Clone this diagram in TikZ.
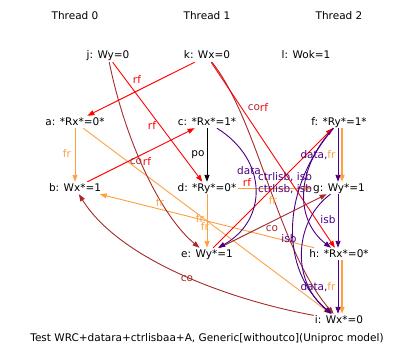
\documentclass[tikz,border=0pt]{standalone}
\usepackage{fontspec}
\setmainfont{DejaVu Sans}
\usetikzlibrary{arrows.meta}

\definecolor{rfcol}{HTML}{FF0000}
\definecolor{cocol}{HTML}{A52A2A}
\definecolor{frcol}{HTML}{FFA040}
\definecolor{depcol}{HTML}{4B0082}

\tikzset{
    ev/.style={inner sep=1pt, text height=8pt, text depth=2pt},
    lbl/.style={inner sep=0pt},
    rel/.style={-{Triangle[length=7pt,width=5pt]}, line width=0.9pt},
    poedge/.style={rel, black},
    rfedge/.style={rel, rfcol},
    coedge/.style={rel, cocol},
    fredge/.style={rel, frcol},
    depedge/.style={rel, depcol}
}

\begin{document}
\begin{tikzpicture}[x=1pt, y=-1pt, font=\fontsize{10.5}{12}\selectfont]
    \useasboundingbox (0,0) rectangle (415,361);

    % thread titles
    \node[ev] (t0) at (75,17) {Thread 0};
    \node[ev] (t1) at (207,17) {Thread 1};
    \node[ev] (t2) at (339,17) {Thread 2};

    % init writes
    \node[ev] (j) at (108,56) {j: Wy=0};
    \node[ev] (k) at (207,56) {k: Wx=0};
    \node[ev] (l) at (306,56) {l: Wok=1};

    % events
    \node[ev] (a) at (75,122) {a: *Rx*=0*};
    \node[ev] (b) at (75,188) {b: Wx*=1};
    \node[ev] (c) at (207,122) {c: *Rx*=1*};
    \node[ev] (d) at (207,188) {d: *Ry*=0*};
    \node[ev] (e) at (207,254) {e: Wy*=1};
    \node[ev] (f) at (339,122) {f: *Ry*=1*};
    \node[ev] (g) at (339,188) {g: Wy*=1};
    \node[ev] (h) at (339,254) {h: *Rx*=0*};
    \node[ev] (i) at (339,320) {i: Wx*=0};

    \node[ev] (cap) at (207,338) {Test WRC+datara+ctrlisbaa+A, Generic[withoutco](Uniproc model)};

    % fr
    \draw[fredge] (a) -- (b);
    \draw[fredge] (a) -- (i);
    \draw[fredge] (h) -- (b);
    \draw[fredge] (d) -- (e);
    \draw[fredge] (d) -- (g);
    \draw[fredge, line width=1.6pt] ([xshift=3pt]f.south) -- ([xshift=3pt]g.north); % under data
    \draw[fredge, line width=1.6pt] ([xshift=3pt]h.south) -- ([xshift=3pt]i.north); % under data

    % co
    \draw[coedge] (j) .. controls (125,140) and (160,215) .. (e);
    \draw[coedge] (k) .. controls (258,120) and (278,250) .. (i);
    \draw[coedge] (e) -- (g);
    \draw[coedge] (i) .. controls (230,300) and (120,260) .. (b);

    % rf
    \draw[rfedge] (k) -- (a);
    \draw[rfedge] (j) -- (d);
    \draw[rfedge] (b) -- (c);
    \draw[rfedge] (e) -- (f);
    \draw[rfedge] (k) -- (h);

    % po
    \draw[poedge] (c) -- (d);

    % dependencies
    \draw[depedge] (c) .. controls (268,160) and (268,220) .. (e);
    \draw[depedge] ([xshift=-1pt]f.south) -- ([xshift=-1pt]g.north);
    \draw[depedge] ([xshift=-1pt]g.south) -- ([xshift=-1pt]h.north);
    \draw[depedge] ([xshift=-1pt]h.south) -- ([xshift=-1pt]i.north);
    \draw[depedge] (f) .. controls (295,170) and (295,220) .. (h);
    \draw[depedge] (f) .. controls (280,190) and (280,270) .. (i);
    \draw[depedge] (g) .. controls (295,220) and (290,280) .. (i);

    % labels
    \node[lbl, text=rfcol] (lrf1) at (137,80) {rf};
    \node[lbl, text=rfcol] (lrf2) at (152,126) {rf};
    \node[lbl, text=cocol] (lco1) at (136,162) {co};
    \node[lbl, text=rfcol] (lrf3) at (147,162) {rf};
    \node[lbl, text=cocol] (lco2) at (254,108) {co};
    \node[lbl, text=rfcol] (lrf4) at (264,108) {rf};
    \node[lbl] (lpo) at (198,155) {po};
    \node[lbl, text=frcol] (lfr1) at (67,154) {fr};
    \node[lbl, text=frcol] (lfr2) at (160,203) {fr};
    \node[lbl, text=frcol] (lfr3) at (200,219) {fr};
    \node[lbl, text=frcol] (lfr4) at (205,227) {fr};
    \node[lbl, text=frcol] (lfr5) at (273,201) {fr};
    \node[lbl, text=depcol] (ldata1) at (249,171) {data};
    \node[lbl, text=rfcol] (lrf5) at (247,183) {rf};
    \node[lbl, text=depcol] (lci1) at (285,177) {ctrlisb, isb};
    \node[lbl, text=depcol] (lci2) at (285,189) {ctrlisb, isb};
    \node[lbl, text=depcol] (ldata2) at (318,155) {data,\textcolor{frcol}{fr}};
    \node[lbl, text=depcol] (lisb1) at (328,220) {isb};
    \node[lbl, text=cocol] (lco3) at (272,229) {co};
    \node[lbl, text=depcol] (lisb2) at (289,239) {isb};
    \node[lbl, text=depcol] (ldata3) at (318,287) {data,\textcolor{frcol}{fr}};
    \node[lbl, text=cocol] (lco4) at (187,279) {co};
\end{tikzpicture}
\end{document}
